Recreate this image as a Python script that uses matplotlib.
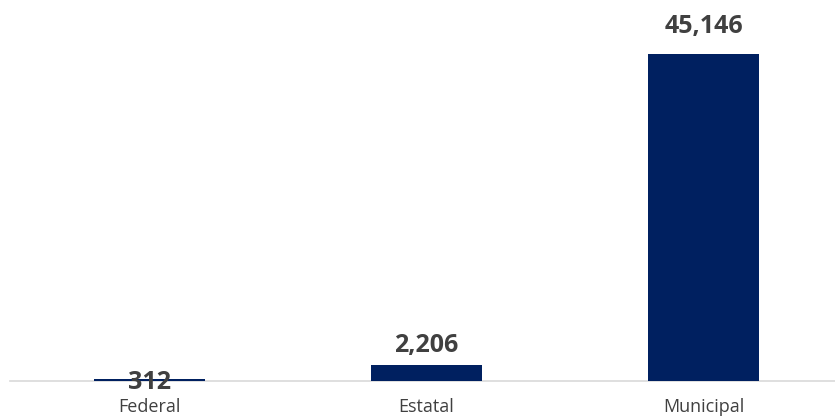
import matplotlib
matplotlib.use('Agg')
import matplotlib.pyplot as plt

categories = ['Federal', 'Estatal', 'Municipal']
values = [312, 2206, 45146]

bar_color = '#002060'
text_color = '#404040'
# vertical offsets (points) of the value labels, as placed in the original
label_offsets = [-12, 5, 11]

plt.rcParams['font.family'] = ['Open Sans', 'DejaVu Sans']

fig = plt.figure(figsize=(8.35, 4.19), dpi=100)
ax = fig.add_axes([10 / 835, 38 / 419, 825 / 835, 381 / 419])

x = range(len(categories))
bars = ax.bar(x, values, width=0.4, color=bar_color, zorder=2)

for rect, v, off in zip(bars, values, label_offsets):
    ax.annotate(f'{v:,}', (rect.get_x() + rect.get_width() / 2, v),
                xytext=(0, off), textcoords='offset points',
                ha='center', va='bottom', fontsize=18, fontweight='bold',
                color=text_color, zorder=3)

ax.set_xlim(-0.504, 2.475)
ax.set_ylim(0, 52600)
ax.set_xticks(list(x))
ax.set_xticklabels(categories, fontsize=13, color=text_color)
ax.tick_params(axis='x', length=0, pad=12)
ax.set_yticks([])
for s in ['top', 'right', 'left']:
    ax.spines[s].set_visible(False)
ax.spines['bottom'].set_color('#d9d9d9')
ax.spines['bottom'].set_linewidth(1.2)
ax.spines['bottom'].set_zorder(1)

fig.savefig('out.png', dpi=100)
